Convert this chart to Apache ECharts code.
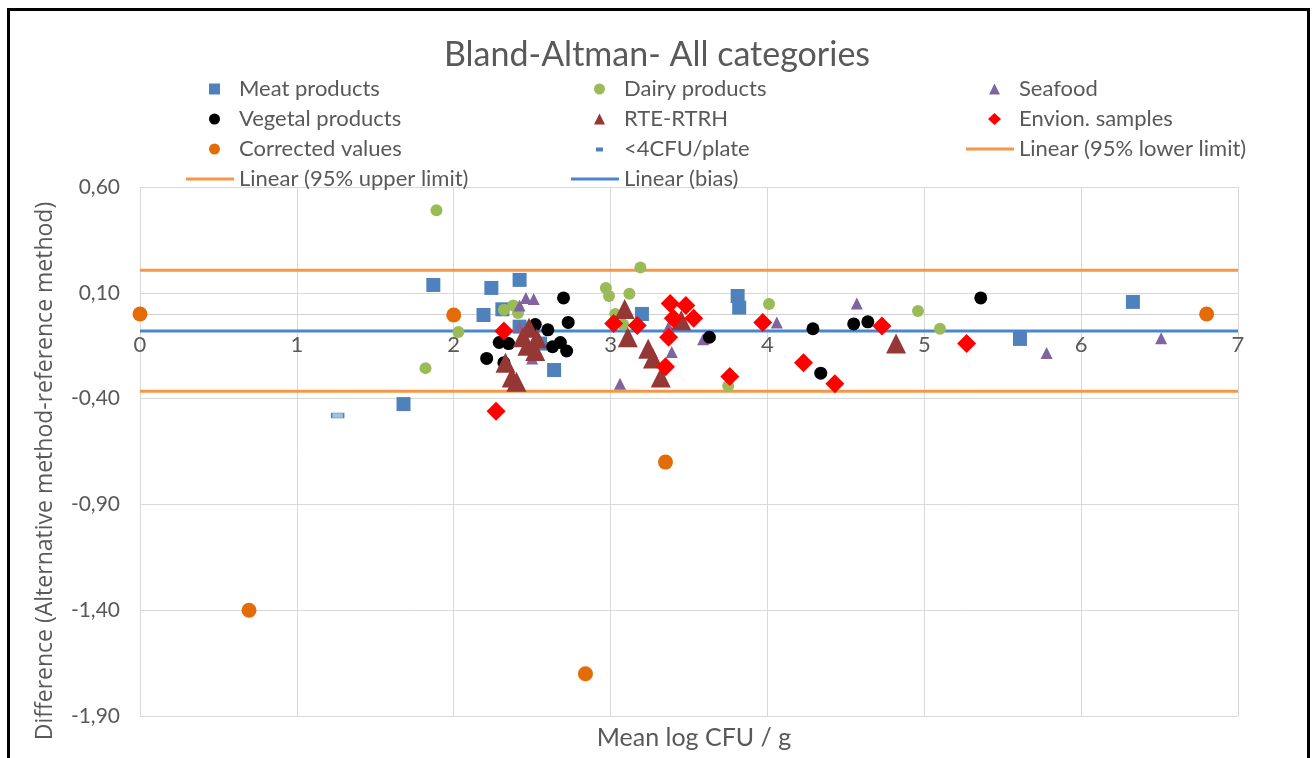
<!DOCTYPE html>
<html>
<head>
<meta charset="UTF-8">
<title>Bland-Altman</title>
<style>
    html, body { margin: 0; padding: 0; background: #fff; }
    #chart { width: 1314px; height: 758px; }
</style>
</head>
<body>
<div id="chart"></div>
<script src="https://cdn.jsdelivr.net/npm/echarts@6/dist/echarts.min.js"></script>
<script>
// values: x = mean log CFU/g, y = difference
var meatX = [1.87, 2.24, 2.42, 2.19, 2.31, 2.42, 2.55, 2.64, 1.68, 3.20, 3.81, 3.82, 5.61, 6.33];
var meatY = [0.137, 0.123, 0.161, -0.005, 0.022, -0.06, -0.14, -0.265, -0.426, 0.0, 0.085, 0.03, -0.118, 0.057];

var dairyX = [1.89, 3.19, 2.97, 2.99, 3.12, 2.03, 1.82, 2.32, 2.38, 2.41, 4.01, 4.96, 5.10, 3.75, 3.03, 3.08];
var dairyY = [0.49, 0.22, 0.123, 0.085, 0.095, -0.085, -0.256, 0.02, 0.04, 0.005, 0.047, 0.014, -0.07, -0.34, 0.0, -0.05];

var seafoodX = [2.46, 2.51, 2.42, 2.42, 2.50, 3.06, 4.06, 4.57, 3.39, 3.59, 3.12, 3.37, 5.78, 6.51];
var seafoodY = [0.076, 0.071, 0.04, -0.06, -0.21, -0.33, -0.04, 0.05, -0.18, -0.12, -0.12, -0.06, -0.185, -0.115];

var vegetalX = [2.70, 2.73, 2.52, 2.60, 2.29, 2.35, 2.21, 2.32, 2.63, 2.68, 2.72, 3.63, 4.29, 4.55, 4.64, 4.34, 5.36];
var vegetalY = [0.076, -0.04, -0.05, -0.075, -0.135, -0.14, -0.21, -0.23, -0.155, -0.135, -0.175, -0.11, -0.07, -0.047, -0.037, -0.28, 0.076];

var rteX = [2.48, 2.44, 2.53, 2.47, 2.52, 2.33, 2.37, 2.40, 3.09, 3.11, 3.24, 3.27, 3.32, 3.45, 4.82];
var rteY = [-0.065, -0.11, -0.115, -0.15, -0.175, -0.23, -0.30, -0.32, 0.024, -0.11, -0.165, -0.21, -0.30, -0.03, -0.14];

var envX = [2.32, 2.27, 3.02, 3.17, 3.38, 3.48, 3.40, 3.53, 3.37, 3.35, 3.76, 3.97, 4.73, 4.23, 4.43, 5.27];
var envY = [-0.08, -0.46, -0.045, -0.055, 0.05, 0.04, -0.02, -0.02, -0.11, -0.25, -0.295, -0.04, -0.057, -0.23, -0.33, -0.14];

var corrX = [0, 2.0, 6.8, 3.35, 0.695, 2.84];
var corrY = [0.0, -0.005, 0.0, -0.70, -1.40, -1.70];

var lowCountX = [1.26];
var lowCountY = [-0.48];

var lineX = [0, 7];
var upperLimit = 0.206;
var biasValue = -0.08;
var lowerLimit = -0.365;

var xTicks = [0, 1, 2, 3, 4, 5, 6, 7];
var yTicks = [-1.9, -1.4, -0.9, -0.4, 0.1, 0.6];

function pairs(xs, ys) {
    var out = [];
    for (var i = 0; i < xs.length; i++) out.push([xs[i], ys[i]]);
    return out;
}
function flat(v) {
    return lineX.map(function (x) { return [x, v]; });
}

var FONT = 'Lato, "Liberation Sans", sans-serif';
var GREY = '#595959';

// legend icons drawn in a 50x12 box (the leading M0,0M50,12 fixes the box so shapes keep their aspect)
var BOX = 'path://M0,0M50,12';
var ICON = {
    square: BOX + 'M25,0.5H36V11.5H25Z',
    circle: BOX + 'M25,6a5.5,5.5 0 1,0 11,0a5.5,5.5 0 1,0 -11,0Z',
    triangle: BOX + 'M30.5,0.5L36,11.5H25Z',
    diamond: BOX + 'M30.5,0L37,6L30.5,12L24,6Z',
    dash: BOX + 'M27,4.5H34V8.5H27Z',
    line: BOX + 'M2,4.5H50V7.5H2Z'
};

function scatter(name, data, symbol, size, color, extra) {
    var s = {
        name: name,
        type: 'scatter',
        data: data,
        symbol: symbol,
        symbolSize: size,
        z: 3,
        itemStyle: { color: color, opacity: 1 },
        emphasis: { disabled: true }
    };
    if (extra) Object.assign(s.itemStyle, extra);
    return s;
}
function hline(name, v, color) {
    return {
        name: name,
        type: 'line',
        data: flat(v),
        symbol: 'none',
        z: 2,
        lineStyle: { color: color, width: 3 },
        itemStyle: { color: color },
        emphasis: { disabled: true }
    };
}

var legendBase = {
    orient: 'vertical',
    itemWidth: 50,
    itemHeight: 12,
    itemGap: 6,
    selectedMode: false,
    itemStyle: { borderWidth: 0 },
    textStyle: { fontFamily: FONT, fontSize: 22, color: GREY, lineHeight: 24 }
};

var chart = echarts.init(document.getElementById('chart'));
chart.setOption({
    animation: false,
    backgroundColor: '#fff',
    title: {
        text: 'Bland-Altman- All categories',
        left: 'center',
        top: 33,
        textStyle: { fontFamily: FONT, fontSize: 34, fontWeight: 'normal', color: GREY }
    },
    legend: [
        Object.assign({}, legendBase, {
            left: 179, top: 72,
            data: [
                { name: 'Meat products', icon: ICON.square },
                { name: 'Vegetal products', icon: ICON.circle },
                { name: 'Corrected values', icon: ICON.circle },
                { name: 'Linear (95% upper limit)', icon: ICON.line }
            ]
        }),
        Object.assign({}, legendBase, {
            left: 564, top: 72,
            data: [
                { name: 'Dairy products', icon: ICON.circle },
                { name: 'RTE-RTRH', icon: ICON.triangle },
                { name: '<4CFU/plate', icon: ICON.dash, itemStyle: { color: '#4F81BD' } },
                { name: 'Linear (bias)', icon: ICON.line }
            ]
        }),
        Object.assign({}, legendBase, {
            left: 959, top: 72,
            data: [
                { name: 'Seafood', icon: ICON.triangle },
                { name: 'Envion. samples', icon: ICON.diamond },
                { name: 'Linear (95% lower limit)', icon: ICON.line }
            ]
        })
    ],
    grid: { left: 140, right: 76, top: 187, bottom: 42, outerBoundsMode: 'none' },
    xAxis: {
        type: 'value',
        position: 'bottom',
        min: xTicks[0],
        max: xTicks[xTicks.length - 1],
        interval: 1,
        axisLine: { show: true, onZero: false, lineStyle: { color: '#D0D0D0', width: 1 } },
        axisTick: { show: false },
        axisLabel: {
            margin: 20, fontFamily: FONT, fontSize: 22, color: GREY,
            showMinLabel: true, showMaxLabel: true
        },
        splitLine: { show: true, lineStyle: { color: '#D9D9D9', width: 1 } }
    },
    yAxis: {
        type: 'value',
        min: yTicks[0],
        max: yTicks[yTicks.length - 1],
        interval: 0.5,
        axisLine: { show: false, onZero: false },
        axisTick: { show: false },
        axisLabel: {
            margin: 20, fontFamily: FONT, fontSize: 21, color: GREY,
            formatter: function (v) { return v.toFixed(2).replace('.', ','); }
        },
        splitLine: { show: true, lineStyle: { color: '#D9D9D9', width: 1 } }
    },
    series: [
        scatter('Meat products', pairs(meatX, meatY), 'rect', 14, '#4F81BD'),
        scatter('Dairy products', pairs(dairyX, dairyY), 'circle', 12, '#9BBB59'),
        scatter('Seafood', pairs(seafoodX, seafoodY), 'triangle', 12, '#8064A2'),
        scatter('Vegetal products', pairs(vegetalX, vegetalY), 'circle', 13, '#000000'),
        scatter('RTE-RTRH', pairs(rteX, rteY), 'triangle', 20, '#953735'),
        scatter('Envion. samples', pairs(envX, envY), 'diamond', 19, '#FF0000'),
        scatter('Corrected values', pairs(corrX, corrY), 'circle', 15, '#E36C09'),
        scatter('<4CFU/plate', pairs(lowCountX, lowCountY), 'rect', [12, 5], '#9DC3E6',
            { borderColor: '#4F81BD', borderWidth: 1 }),
        hline('Linear (95% lower limit)', lowerLimit, '#F79646'),
        hline('Linear (95% upper limit)', upperLimit, '#F79646'),
        hline('Linear (bias)', biasValue, '#4A86D0')
    ],
    graphic: [
        {
            type: 'rect',
            shape: { x: 8.5, y: 9.5, width: 1300, height: 800 },
            style: { fill: 'none', stroke: '#000', lineWidth: 3 },
            silent: true
        },
        {
            type: 'text',
            x: 45, y: 471,
            rotation: Math.PI / 2,
            style: {
                text: 'Difference (Alternative method-reference method)',
                fontFamily: '"Open Sans", sans-serif', fontSize: 23, fill: GREY,
                textAlign: 'center', textVerticalAlign: 'middle'
            },
            silent: true
        },
        {
            type: 'text',
            x: 694, y: 738,
            style: {
                text: 'Mean log CFU / g',
                fontFamily: FONT, fontSize: 25, fill: GREY,
                textAlign: 'center', textVerticalAlign: 'middle'
            },
            silent: true
        }
    ]
});

// the category axis crosses at y = 0, like Excel: shift the x axis up to the zero line
var zeroPx = chart.convertToPixel({ yAxisIndex: 0 }, 0);
var bottomPx = chart.convertToPixel({ yAxisIndex: 0 }, yTicks[0]);
chart.setOption({ xAxis: { offset: zeroPx - bottomPx } });
</script>
</body>
</html>
